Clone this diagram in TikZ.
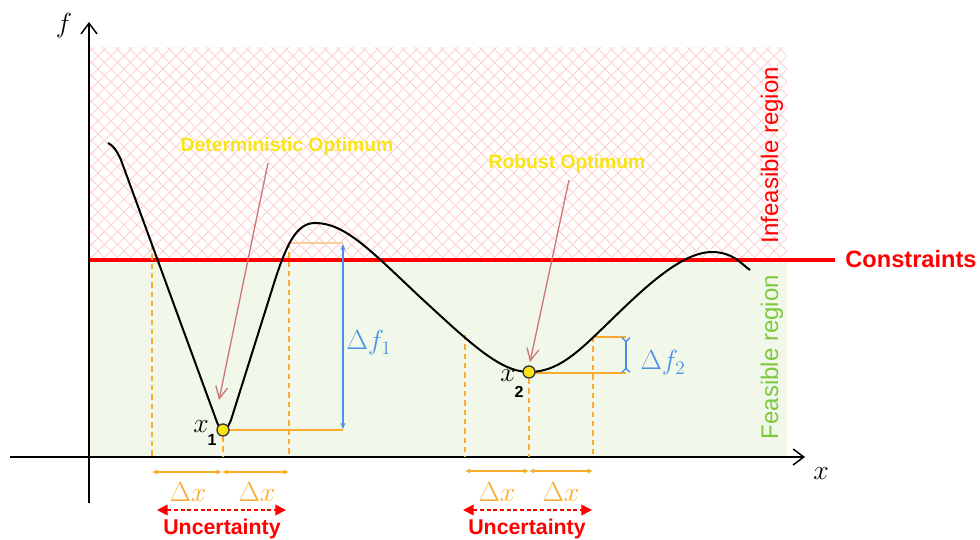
\documentclass[tikz,border=0pt]{standalone}
\usepackage{fontspec}
\setsansfont{Liberation Sans}
\usetikzlibrary{arrows.meta}
\definecolor{myyellow}{RGB}{250,228,20}
\definecolor{myorange}{RGB}{250,170,45}
\definecolor{lightorange}{RGB}{252,205,150}
\definecolor{myblue}{RGB}{75,145,230}
\definecolor{mygreen}{RGB}{125,200,60}
\definecolor{feasgreen}{RGB}{241,248,233}
\definecolor{hatchpink}{RGB}{255,208,208}
\definecolor{rosy}{RGB}{205,120,120}
\tikzset{
  hatch/.style={draw=hatchpink, line width=0.7pt},
  axisline/.style={line width=1.1pt, -{Straight Barb[length=8pt,width=12pt,line width=1.1pt]}},
  fcurve/.style={line width=1.5pt, line join=round},
  guide/.style={draw=myorange, line width=1.2pt, dash pattern=on 4pt off 3pt},
  hline/.style={draw=myorange, line width=1.2pt},
  bluearrow/.style={draw=myblue, line width=1.2pt},
  dxarrow/.style={draw=myorange, line width=1pt, {Latex[length=4pt,width=4pt]}-{Latex[length=4pt,width=4pt]}},
  uncarrow/.style={draw=red, line width=1.2pt, dash pattern=on 3pt off 2pt, {Triangle[length=8pt,width=8pt]}-{Triangle[length=8pt,width=8pt]}},
  pointer/.style={draw=rosy, line width=1pt, -{Straight Barb[length=9pt,width=9pt,line width=1pt]}},
  opttext/.style={text=myyellow, font=\sffamily\bfseries\fontsize{14.5}{16}\selectfont, inner sep=1pt},
  unctext/.style={text=red, font=\sffamily\bfseries\fontsize{16}{18}\selectfont, inner sep=1pt},
  regtext/.style={font=\sffamily\fontsize{18}{20}\selectfont, rotate=90, inner sep=1pt},
  mathlbl/.style={font=\fontsize{20}{22}\selectfont, inner sep=1pt},
  sublbl/.style={font=\sffamily\bfseries\fontsize{12}{13}\selectfont, inner sep=0pt},
  dot/.style={circle, draw=black!80, fill=myyellow, line width=1pt, minimum size=9pt, inner sep=0pt},
}
\begin{document}
\begin{tikzpicture}[x=0.75pt,y=-0.75pt]
\useasboundingbox (0,0) rectangle (980,539);
% regions
\fill[feasgreen] (89,260) rectangle (787,457);
\begin{scope}
  \clip (89,47) rectangle (787,260);
  \foreach \i in {-18,...,56} {
    \draw[hatch] (89+13*\i,47) -- ++(213,213);
    \draw[hatch] (89+13*\i,260) -- ++(213,-213);
  }
\end{scope}
% region labels
\node[regtext, text=red] (infeas) at (772,155) {Infeasible region};
\node[regtext, text=mygreen] (feas) at (772,357) {Feasible region};
% constraint line
\node[text=red, font=\sffamily\bfseries\fontsize{17.7}{20}\selectfont, inner sep=1pt] (con) at (911,259) {Constraints};
\coordinate (cl) at (89,260);
\coordinate (cr) at (835,260);
\draw[red, line width=2.6pt] (cl) -- (cr);
% axes
\coordinate (o1) at (89,503);
\coordinate (yt) at (89,22);
\coordinate (o2) at (10,457);
\coordinate (xt) at (805,457);
\draw[axisline] (o1) -- (yt);
\draw[axisline] (o2) -- (xt);
\node[mathlbl] (flbl) at (64,26) {$f$};
\node[mathlbl] (xlbl) at (821,474) {$x$};
% guide points
\coordinate (a1) at (152,245);
\coordinate (a1b) at (152,457);
\coordinate (m1) at (223,437);
\coordinate (m1b) at (223,457);
\coordinate (c1) at (289,243);
\coordinate (c1b) at (289,457);
\coordinate (d1) at (343,243);
\coordinate (e1) at (343,430);
\coordinate (a2) at (465,335);
\coordinate (a2b) at (465,457);
\coordinate (m2) at (529,379);
\coordinate (m2b) at (529,457);
\coordinate (c2) at (593,337);
\coordinate (c2b) at (593,457);
\coordinate (d2) at (626,337);
\coordinate (e2) at (626,373);
% dashed guides
\draw[guide] (a1) -- (a1b);
\draw[guide] (m1) -- (m1b);
\draw[guide] (c1) -- (c1b);
\draw[guide] (a2) -- (a2b);
\draw[guide] (m2) -- (m2b);
\draw[guide] (c2) -- (c2b);
% horizontal lines
\draw[draw=lightorange, line width=1.2pt] (c1) -- (d1);
\draw[hline] (223,430) -- (e1);
\draw[hline] (c2) -- (d2);
\draw[hline] (529,373) -- (e2);
% delta f arrows
\draw[bluearrow, {Latex[length=5pt,width=4pt]}-{Latex[length=5pt,width=4pt]}] (d1) -- (e1);
\draw[bluearrow, {Straight Barb[reversed,length=3pt,width=6pt,line width=1pt]}-{Straight Barb[reversed,length=3pt,width=6pt,line width=1pt]}] (d2) -- (e2);
\node[mathlbl, text=myblue] (df1) at (369,343) {$\Delta f_1$};
\node[mathlbl, text=myblue] (df2) at (663,363) {$\Delta f_2$};
% curve
\draw[fcurve] (108,143) .. controls (113,145) and (117,151) .. (121,160)
  -- (214,414) .. controls (218,425) and (220,431) .. (223,431)
  .. controls (226,431) and (228,427) .. (231,420)
  -- (275,280) .. controls (287,243) and (297,223) .. (315,223)
  .. controls (345,223) and (370,250) .. (420,297)
  .. controls (470,343) and (500,372) .. (529,372)
  .. controls (558,372) and (578,352) .. (605,326)
  .. controls (640,292) and (680,252) .. (712,252)
  .. controls (725,252) and (734,257) .. (740,262)
  .. controls (744,265) and (747,268) .. (750,270);
% optimum labels and pointers
\node[opttext] (det) at (287,146) {Deterministic Optimum};
\node[opttext] (rob) at (567,163) {Robust Optimum};
\coordinate (detS) at (268,163);
\coordinate (detE) at (219,400);
\coordinate (robS) at (569,180);
\coordinate (robE) at (530,362);
\draw[pointer] (detS) -- (detE);
\draw[pointer] (robS) -- (robE);
% points
\node[dot] (x1) at (223,430) {};
\node[dot] (x2) at (529,372) {};
\node[mathlbl] (x1l) at (201,427) {$x$};
\node[sublbl] (x1s) at (212,440) {1};
\node[mathlbl] (x2l) at (508,376) {$x$};
\node[sublbl] (x2s) at (519,392) {2};
% delta x arrows
\coordinate (p1) at (152,472);
\coordinate (p2) at (222,472);
\coordinate (p3) at (289,472);
\draw[dxarrow] (p1) -- (p2);
\draw[dxarrow] (p2) -- (p3);
\node[mathlbl, text=myorange] (dx1) at (188,492) {$\Delta x$};
\node[mathlbl, text=myorange] (dx2) at (257,492) {$\Delta x$};
\coordinate (q1) at (465,471);
\coordinate (q2) at (529,471);
\coordinate (q3) at (593,471);
\draw[dxarrow] (q1) -- (q2);
\draw[dxarrow] (q2) -- (q3);
\node[mathlbl, text=myorange] (dx3) at (497,492) {$\Delta x$};
\node[mathlbl, text=myorange] (dx4) at (561,492) {$\Delta x$};
% uncertainty
\coordinate (u1) at (157,510);
\coordinate (u2) at (286,510);
\coordinate (u3) at (463,510);
\coordinate (u4) at (592,510);
\draw[uncarrow] (u1) -- (u2);
\draw[uncarrow] (u3) -- (u4);
\node[unctext] (unc1) at (222,529) {Uncertainty};
\node[unctext] (unc2) at (527,529) {Uncertainty};
\end{tikzpicture}
\end{document}
